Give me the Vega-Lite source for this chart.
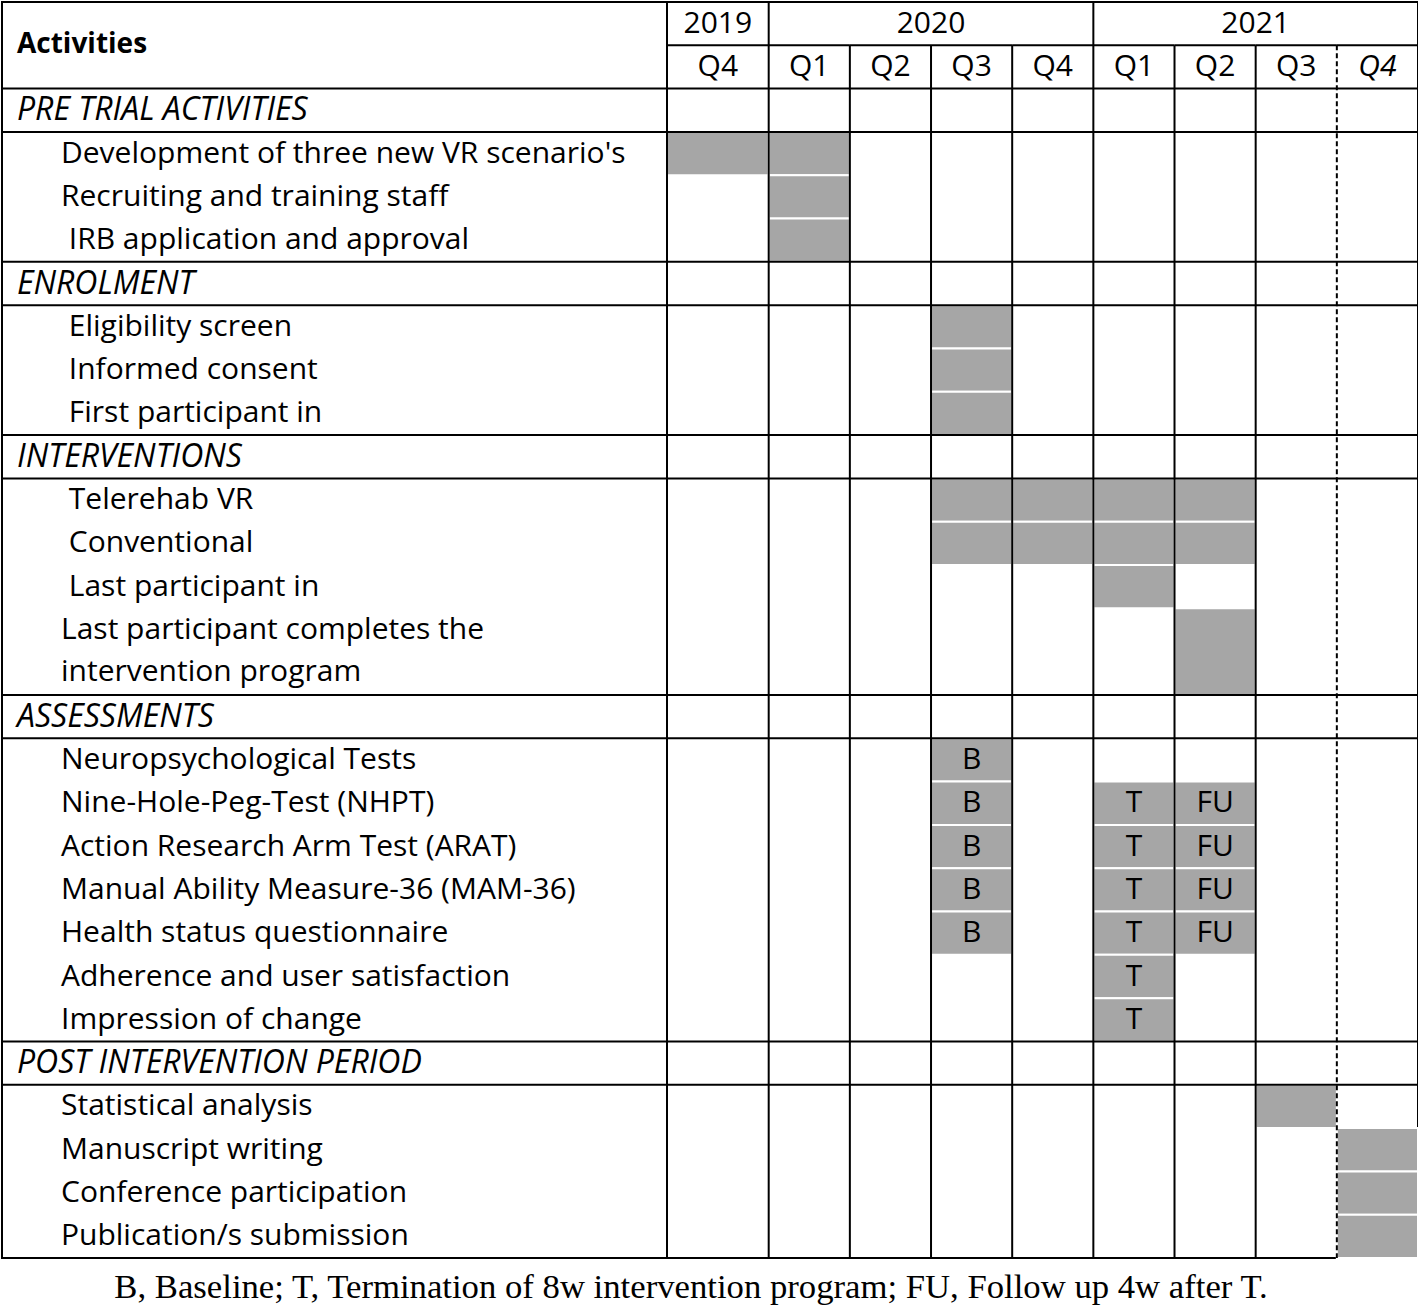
{
  "$schema": "https://vega.github.io/schema/vega-lite/v6.json",
  "width": 1416,
  "height": 1256,
  "padding": {"left": 1, "top": 1, "right": 1, "bottom": 2},
  "background": "white",
  "config": {
    "view": {"stroke": "black", "strokeWidth": 2},
    "text": {"font": "Open Sans", "fontSize": 30, "color": "black", "baseline": "middle"}
  },
  "title": {
    "text": "B, Baseline; T, Termination of 8w intervention program; FU, Follow up 4w after T.",
    "orient": "bottom",
    "anchor": "middle",
    "font": "Liberation Serif",
    "fontSize": 34.7,
    "fontWeight": "normal",
    "color": "black",
    "offset": 12,
    "dx": -19
  },
  "datasets": {
    "columns": [
      {"col": "2019 Q4", "year": "2019", "q": "Q4", "start": 0, "end": 1, "yearStart": true, "projected": false},
      {"col": "2020 Q1", "year": "2020", "q": "Q1", "start": 1, "end": 2, "yearStart": true, "projected": false},
      {"col": "2020 Q2", "year": "2020", "q": "Q2", "start": 2, "end": 3, "yearStart": false, "projected": false},
      {"col": "2020 Q3", "year": "2020", "q": "Q3", "start": 3, "end": 4, "yearStart": false, "projected": false},
      {"col": "2020 Q4", "year": "2020", "q": "Q4", "start": 4, "end": 5, "yearStart": false, "projected": false},
      {"col": "2021 Q1", "year": "2021", "q": "Q1", "start": 5, "end": 6, "yearStart": true, "projected": false},
      {"col": "2021 Q2", "year": "2021", "q": "Q2", "start": 6, "end": 7, "yearStart": false, "projected": false},
      {"col": "2021 Q3", "year": "2021", "q": "Q3", "start": 7, "end": 8, "yearStart": false, "projected": false},
      {"col": "2021 Q4", "year": "2021", "q": "Q4", "start": 8, "end": 9, "yearStart": false, "projected": true}
    ],
    "rows": [
      {"activity": "PRE TRIAL ACTIVITIES", "kind": "section", "row": 2, "rowEnd": 3},
      {"activity": "Development of three new VR scenario's", "kind": "item", "row": 3, "rowEnd": 4},
      {"activity": "Recruiting and training staff", "kind": "item", "row": 4, "rowEnd": 5},
      {"activity": "\u200b\u00a0IRB application and approval", "kind": "item", "row": 5, "rowEnd": 6},
      {"activity": "ENROLMENT", "kind": "section", "row": 6, "rowEnd": 7},
      {"activity": "\u200b\u00a0Eligibility screen", "kind": "item", "row": 7, "rowEnd": 8},
      {"activity": "\u200b\u00a0Informed consent", "kind": "item", "row": 8, "rowEnd": 9},
      {"activity": "\u200b\u00a0First participant in", "kind": "item", "row": 9, "rowEnd": 10},
      {"activity": "INTERVENTIONS", "kind": "section", "row": 10, "rowEnd": 11},
      {"activity": "\u200b\u00a0Telerehab VR", "kind": "item", "row": 11, "rowEnd": 12},
      {"activity": "\u200b\u00a0Conventional", "kind": "item", "row": 12, "rowEnd": 13},
      {"activity": "\u200b\u00a0Last participant in", "kind": "item", "row": 13, "rowEnd": 14},
      {"activity": "Last participant completes the\nintervention program", "kind": "item", "row": 14, "rowEnd": 16},
      {"activity": "ASSESSMENTS", "kind": "section", "row": 16, "rowEnd": 17},
      {"activity": "Neuropsychological Tests", "kind": "item", "row": 17, "rowEnd": 18},
      {"activity": "Nine-Hole-Peg-Test (NHPT)", "kind": "item", "row": 18, "rowEnd": 19},
      {"activity": "Action Research Arm Test (ARAT)", "kind": "item", "row": 19, "rowEnd": 20},
      {"activity": "Manual Ability Measure-36 (MAM-36)", "kind": "item", "row": 20, "rowEnd": 21},
      {"activity": "Health status questionnaire", "kind": "item", "row": 21, "rowEnd": 22},
      {"activity": "Adherence and user satisfaction", "kind": "item", "row": 22, "rowEnd": 23},
      {"activity": "Impression of change", "kind": "item", "row": 23, "rowEnd": 24},
      {"activity": "POST INTERVENTION PERIOD", "kind": "section", "row": 24, "rowEnd": 25},
      {"activity": "Statistical analysis", "kind": "item", "row": 25, "rowEnd": 26},
      {"activity": "Manuscript writing", "kind": "item", "row": 26, "rowEnd": 27},
      {"activity": "Conference participation", "kind": "item", "row": 27, "rowEnd": 28},
      {"activity": "Publication/s submission", "kind": "item", "row": 28, "rowEnd": 29}
    ],
    "fills": [
      {"activity": "Development of three new VR scenario's", "col": "2019 Q4"},
      {"activity": "Development of three new VR scenario's", "col": "2020 Q1"},
      {"activity": "Recruiting and training staff", "col": "2020 Q1"},
      {"activity": "\u200b\u00a0IRB application and approval", "col": "2020 Q1"},
      {"activity": "\u200b\u00a0Eligibility screen", "col": "2020 Q3"},
      {"activity": "\u200b\u00a0Informed consent", "col": "2020 Q3"},
      {"activity": "\u200b\u00a0First participant in", "col": "2020 Q3"},
      {"activity": "\u200b\u00a0Telerehab VR", "col": "2020 Q3"},
      {"activity": "\u200b\u00a0Telerehab VR", "col": "2020 Q4"},
      {"activity": "\u200b\u00a0Telerehab VR", "col": "2021 Q1"},
      {"activity": "\u200b\u00a0Telerehab VR", "col": "2021 Q2"},
      {"activity": "\u200b\u00a0Conventional", "col": "2020 Q3"},
      {"activity": "\u200b\u00a0Conventional", "col": "2020 Q4"},
      {"activity": "\u200b\u00a0Conventional", "col": "2021 Q1"},
      {"activity": "\u200b\u00a0Conventional", "col": "2021 Q2"},
      {"activity": "\u200b\u00a0Last participant in", "col": "2021 Q1"},
      {"activity": "Last participant completes the\nintervention program", "col": "2021 Q2"},
      {"activity": "Neuropsychological Tests", "col": "2020 Q3", "label": "B"},
      {"activity": "Nine-Hole-Peg-Test (NHPT)", "col": "2020 Q3", "label": "B"},
      {"activity": "Nine-Hole-Peg-Test (NHPT)", "col": "2021 Q1", "label": "T"},
      {"activity": "Nine-Hole-Peg-Test (NHPT)", "col": "2021 Q2", "label": "FU"},
      {"activity": "Action Research Arm Test (ARAT)", "col": "2020 Q3", "label": "B"},
      {"activity": "Action Research Arm Test (ARAT)", "col": "2021 Q1", "label": "T"},
      {"activity": "Action Research Arm Test (ARAT)", "col": "2021 Q2", "label": "FU"},
      {"activity": "Manual Ability Measure-36 (MAM-36)", "col": "2020 Q3", "label": "B"},
      {"activity": "Manual Ability Measure-36 (MAM-36)", "col": "2021 Q1", "label": "T"},
      {"activity": "Manual Ability Measure-36 (MAM-36)", "col": "2021 Q2", "label": "FU"},
      {"activity": "Health status questionnaire", "col": "2020 Q3", "label": "B"},
      {"activity": "Health status questionnaire", "col": "2021 Q1", "label": "T"},
      {"activity": "Health status questionnaire", "col": "2021 Q2", "label": "FU"},
      {"activity": "Adherence and user satisfaction", "col": "2021 Q1", "label": "T"},
      {"activity": "Impression of change", "col": "2021 Q1", "label": "T"},
      {"activity": "Statistical analysis", "col": "2021 Q3"},
      {"activity": "Manuscript writing", "col": "2021 Q4"},
      {"activity": "Conference participation", "col": "2021 Q4"},
      {"activity": "Publication/s submission", "col": "2021 Q4"}
    ]
  },
  "layer": [
    {
      "data": {"name": "fills"},
      "transform": [
        {"lookup": "activity", "from": {"data": {"name": "rows"}, "key": "activity", "fields": ["row", "rowEnd"]}},
        {"lookup": "col", "from": {"data": {"name": "columns"}, "key": "col", "fields": ["start", "end"]}}
      ],
      "mark": {"type": "rect", "color": "#a6a6a6", "stroke": "white", "strokeWidth": 2},
      "encoding": {
        "x": {"field": "start", "type": "quantitative", "axis": null, "scale": {"type": "linear", "domain": [-1, 0, 1, 9], "range": [0, 665, 766.7, 1416], "nice": false, "zero": false}},
        "x2": {"field": "end"},
        "y": {"field": "row", "type": "quantitative", "axis": null, "scale": {"type": "linear", "domain": [0, 29], "reverse": true, "nice": false, "zero": false}},
        "y2": {"field": "rowEnd"}
      }
    },
    {
      "data": {"name": "fills"},
      "transform": [
        {"filter": "isValid(datum.label)"},
        {"lookup": "activity", "from": {"data": {"name": "rows"}, "key": "activity", "fields": ["row", "rowEnd"]}},
        {"lookup": "col", "from": {"data": {"name": "columns"}, "key": "col", "fields": ["start", "end"]}},
        {"fold": ["start", "end"], "as": ["xedge", "xv"]},
        {"aggregate": [{"op": "mean", "field": "xv", "as": "xc"}], "groupby": ["activity", "col", "label", "row"]}
      ],
      "mark": {"type": "text", "align": "center", "dy": 21.7},
      "encoding": {
        "x": {"field": "xc", "type": "quantitative", "axis": null, "scale": {"type": "linear", "domain": [-1, 0, 1, 9], "range": [0, 665, 766.7, 1416], "nice": false, "zero": false}},
        "y": {"field": "row", "type": "quantitative", "axis": null, "scale": {"type": "linear", "domain": [0, 29], "reverse": true, "nice": false, "zero": false}},
        "text": {"field": "label"}
      }
    },
    {
      "data": {"name": "rows"},
      "transform": [
        {"filter": "datum.kind === 'section'"},
        {"fold": ["row", "rowEnd"], "as": ["edge", "yv"]}
      ],
      "mark": {"type": "rule", "color": "black", "strokeWidth": 2},
      "encoding": {
        "x": {"datum": -1, "type": "quantitative", "axis": null, "scale": {"type": "linear", "domain": [-1, 0, 1, 9], "range": [0, 665, 766.7, 1416], "nice": false, "zero": false}},
        "x2": {"datum": 9},
        "y": {"field": "yv", "type": "quantitative", "axis": null, "scale": {"type": "linear", "domain": [0, 29], "reverse": true, "nice": false, "zero": false}}
      }
    },
    {
      "data": {"name": "columns"},
      "mark": {"type": "rule", "color": "black", "strokeWidth": 2},
      "encoding": {
        "x": {"field": "start", "type": "quantitative", "axis": null, "scale": {"type": "linear", "domain": [-1, 0, 1, 9], "range": [0, 665, 766.7, 1416], "nice": false, "zero": false}},
        "x2": {"field": "end"},
        "y": {"datum": 1, "type": "quantitative", "axis": null, "scale": {"type": "linear", "domain": [0, 29], "reverse": true, "nice": false, "zero": false}}
      }
    },
    {
      "data": {"name": "columns"},
      "transform": [{"filter": "datum.yearStart"}],
      "mark": {"type": "rule", "color": "black", "strokeWidth": 2},
      "encoding": {
        "x": {"field": "start", "type": "quantitative", "axis": null, "scale": {"type": "linear", "domain": [-1, 0, 1, 9], "range": [0, 665, 766.7, 1416], "nice": false, "zero": false}},
        "y": {"datum": 0, "type": "quantitative", "axis": null, "scale": {"type": "linear", "domain": [0, 29], "reverse": true, "nice": false, "zero": false}},
        "y2": {"datum": 29}
      }
    },
    {
      "data": {"name": "columns"},
      "transform": [{"filter": "!datum.yearStart && !datum.projected"}],
      "mark": {"type": "rule", "color": "black", "strokeWidth": 2},
      "encoding": {
        "x": {"field": "start", "type": "quantitative", "axis": null, "scale": {"type": "linear", "domain": [-1, 0, 1, 9], "range": [0, 665, 766.7, 1416], "nice": false, "zero": false}},
        "y": {"datum": 1, "type": "quantitative", "axis": null, "scale": {"type": "linear", "domain": [0, 29], "reverse": true, "nice": false, "zero": false}},
        "y2": {"datum": 29}
      }
    },
    {
      "data": {"name": "columns"},
      "transform": [{"filter": "datum.projected"}],
      "mark": {"type": "rule", "color": "black", "strokeWidth": 2, "strokeDash": [5, 3]},
      "encoding": {
        "x": {"field": "start", "type": "quantitative", "axis": null, "scale": {"type": "linear", "domain": [-1, 0, 1, 9], "range": [0, 665, 766.7, 1416], "nice": false, "zero": false}},
        "y": {"datum": 1, "type": "quantitative", "axis": null, "scale": {"type": "linear", "domain": [0, 29], "reverse": true, "nice": false, "zero": false}},
        "y2": {"datum": 29}
      }
    },
    {
      "data": {"name": "columns"},
      "transform": [
        {"fold": ["start", "end"], "as": ["edge", "xv"]},
        {"aggregate": [{"op": "mean", "field": "xv", "as": "xc"}], "groupby": ["year"]}
      ],
      "mark": {"type": "text", "align": "center"},
      "encoding": {
        "x": {"field": "xc", "type": "quantitative", "axis": null, "scale": {"type": "linear", "domain": [-1, 0, 1, 9], "range": [0, 665, 766.7, 1416], "nice": false, "zero": false}},
        "y": {"datum": 0.5, "type": "quantitative", "axis": null, "scale": {"type": "linear", "domain": [0, 29], "reverse": true, "nice": false, "zero": false}},
        "text": {"field": "year"}
      }
    },
    {
      "data": {"name": "columns"},
      "transform": [
        {"filter": "!datum.projected"},
        {"fold": ["start", "end"], "as": ["edge", "xv"]},
        {"aggregate": [{"op": "mean", "field": "xv", "as": "xc"}], "groupby": ["col", "q"]}
      ],
      "mark": {"type": "text", "align": "center"},
      "encoding": {
        "x": {"field": "xc", "type": "quantitative", "axis": null, "scale": {"type": "linear", "domain": [-1, 0, 1, 9], "range": [0, 665, 766.7, 1416], "nice": false, "zero": false}},
        "y": {"datum": 1.5, "type": "quantitative", "axis": null, "scale": {"type": "linear", "domain": [0, 29], "reverse": true, "nice": false, "zero": false}},
        "text": {"field": "q"}
      }
    },
    {
      "data": {"name": "columns"},
      "transform": [
        {"filter": "datum.projected"},
        {"fold": ["start", "end"], "as": ["edge", "xv"]},
        {"aggregate": [{"op": "mean", "field": "xv", "as": "xc"}], "groupby": ["col", "q"]}
      ],
      "mark": {"type": "text", "align": "center", "fontStyle": "italic"},
      "encoding": {
        "x": {"field": "xc", "type": "quantitative", "axis": null, "scale": {"type": "linear", "domain": [-1, 0, 1, 9], "range": [0, 665, 766.7, 1416], "nice": false, "zero": false}},
        "y": {"datum": 1.5, "type": "quantitative", "axis": null, "scale": {"type": "linear", "domain": [0, 29], "reverse": true, "nice": false, "zero": false}},
        "text": {"field": "q"}
      }
    },
    {
      "data": {"values": [{"header": "Activities"}]},
      "mark": {"type": "text", "align": "left", "fontWeight": "bold", "fontSize": 28, "dx": 15},
      "encoding": {
        "x": {"datum": -1, "type": "quantitative", "axis": null, "scale": {"type": "linear", "domain": [-1, 0, 1, 9], "range": [0, 665, 766.7, 1416], "nice": false, "zero": false}},
        "y": {"datum": 1, "type": "quantitative", "axis": null, "scale": {"type": "linear", "domain": [0, 29], "reverse": true, "nice": false, "zero": false}},
        "text": {"field": "header"}
      }
    },
    {
      "data": {"name": "rows"},
      "transform": [{"filter": "datum.kind === 'section'"}],
      "mark": {"type": "text", "align": "left", "fontStyle": "italic", "fontSize": 32, "dx": 15, "dy": 21.7},
      "encoding": {
        "x": {"datum": -1, "type": "quantitative", "axis": null, "scale": {"type": "linear", "domain": [-1, 0, 1, 9], "range": [0, 665, 766.7, 1416], "nice": false, "zero": false}},
        "y": {"field": "row", "type": "quantitative", "axis": null, "scale": {"type": "linear", "domain": [0, 29], "reverse": true, "nice": false, "zero": false}},
        "text": {"field": "activity"}
      }
    },
    {
      "data": {"name": "rows"},
      "transform": [{"filter": "datum.kind === 'item'"}],
      "mark": {"type": "text", "align": "left", "dx": 59, "dy": 21.7, "lineBreak": "\n", "lineHeight": 42},
      "encoding": {
        "x": {"datum": -1, "type": "quantitative", "axis": null, "scale": {"type": "linear", "domain": [-1, 0, 1, 9], "range": [0, 665, 766.7, 1416], "nice": false, "zero": false}},
        "y": {"field": "row", "type": "quantitative", "axis": null, "scale": {"type": "linear", "domain": [0, 29], "reverse": true, "nice": false, "zero": false}},
        "text": {"field": "activity"}
      }
    }
  ]
}
